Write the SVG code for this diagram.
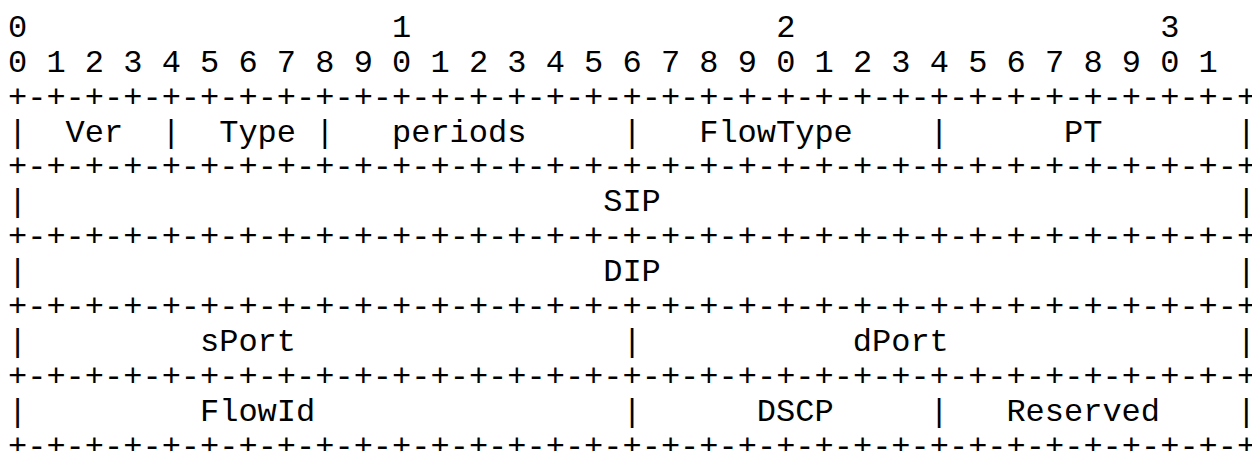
<svg xmlns="http://www.w3.org/2000/svg" width="1252" height="451" viewBox="0 0 1252 451">
  <style>
    .t { font-family: "Liberation Mono", "Courier New", monospace; font-size: 32px; fill: #000; white-space: pre; }
  </style>
  <rect width="1252" height="451" fill="#fff"/>

  <!-- bit ruler: tens and units (column pitch 19.2px, origin x=8) -->
  <g id="ruler" class="t">
    <text x="8" y="36.8" xml:space="preserve">0                   1                   2                   3</text>
    <text x="8" y="71.7" xml:space="preserve">0 1 2 3 4 5 6 7 8 9 0 1 2 3 4 5 6 7 8 9 0 1 2 3 4 5 6 7 8 9 0 1</text>
  </g>

  <!-- word borders and field separators -->
  <g id="connectors" class="t">
    <text x="8" y="106.6">+-+-+-+-+-+-+-+-+-+-+-+-+-+-+-+-+-+-+-+-+-+-+-+-+-+-+-+-+-+-+-+-+</text>
    <text x="8" y="176.4">+-+-+-+-+-+-+-+-+-+-+-+-+-+-+-+-+-+-+-+-+-+-+-+-+-+-+-+-+-+-+-+-+</text>
    <text x="8" y="246.2">+-+-+-+-+-+-+-+-+-+-+-+-+-+-+-+-+-+-+-+-+-+-+-+-+-+-+-+-+-+-+-+-+</text>
    <text x="8" y="316">+-+-+-+-+-+-+-+-+-+-+-+-+-+-+-+-+-+-+-+-+-+-+-+-+-+-+-+-+-+-+-+-+</text>
    <text x="8" y="385.8">+-+-+-+-+-+-+-+-+-+-+-+-+-+-+-+-+-+-+-+-+-+-+-+-+-+-+-+-+-+-+-+-+</text>
    <text x="8" y="455.6">+-+-+-+-+-+-+-+-+-+-+-+-+-+-+-+-+-+-+-+-+-+-+-+-+-+-+-+-+-+-+-+-+</text>

    <!-- word 1 separators: cols 0, 8, 16, 32, 48, 64 -->
    <text x="8" y="141.5">|</text>
    <text x="161.6" y="141.5">|</text>
    <text x="315.2" y="141.5">|</text>
    <text x="622.4" y="141.5">|</text>
    <text x="929.6" y="141.5">|</text>
    <text x="1236.8" y="141.5">|</text>
    <!-- word 2 -->
    <text x="8" y="211.3">|</text>
    <text x="1236.8" y="211.3">|</text>
    <!-- word 3 -->
    <text x="8" y="281.1">|</text>
    <text x="1236.8" y="281.1">|</text>
    <!-- word 4 -->
    <text x="8" y="350.9">|</text>
    <text x="622.4" y="350.9">|</text>
    <text x="1236.8" y="350.9">|</text>
    <!-- word 5 -->
    <text x="8" y="420.7">|</text>
    <text x="622.4" y="420.7">|</text>
    <text x="929.6" y="420.7">|</text>
    <text x="1236.8" y="420.7">|</text>
  </g>

  <!-- fields -->
  <g id="field-ver" class="t"><text x="65.6" y="141.5">Ver</text></g>
  <g id="field-type" class="t"><text x="219.2" y="141.5">Type</text></g>
  <g id="field-periods" class="t"><text x="392" y="141.5">periods</text></g>
  <g id="field-flowtype" class="t"><text x="699.2" y="141.5">FlowType</text></g>
  <g id="field-pt" class="t"><text x="1064" y="141.5">PT</text></g>

  <g id="field-sip" class="t"><text x="603.2" y="211.3">SIP</text></g>
  <g id="field-dip" class="t"><text x="603.2" y="281.1">DIP</text></g>

  <g id="field-sport" class="t"><text x="200" y="350.9">sPort</text></g>
  <g id="field-dport" class="t"><text x="852.8" y="350.9">dPort</text></g>

  <g id="field-flowid" class="t"><text x="200" y="420.7">FlowId</text></g>
  <g id="field-dscp" class="t"><text x="756.8" y="420.7">DSCP</text></g>
  <g id="field-reserved" class="t"><text x="1006.4" y="420.7">Reserved</text></g>
</svg>
